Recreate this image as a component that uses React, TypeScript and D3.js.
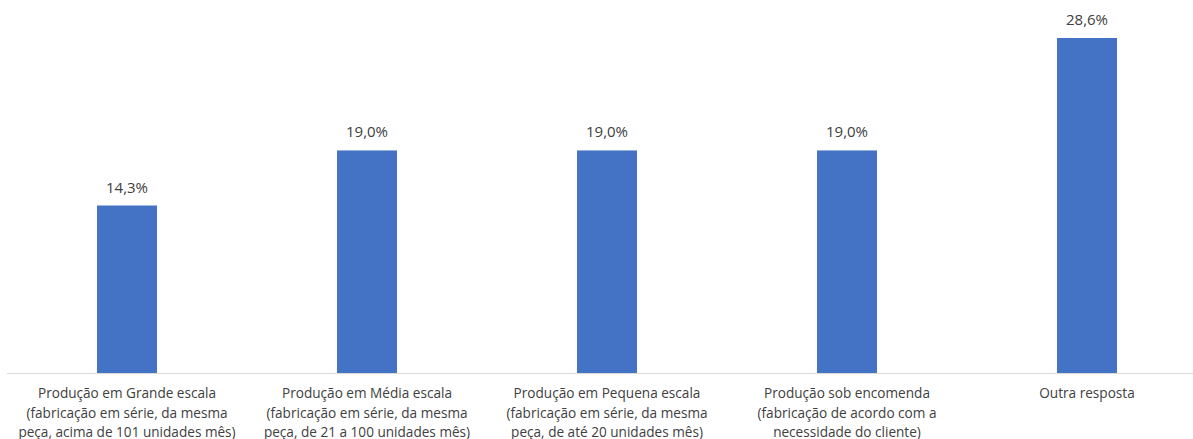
import React from "react";
import * as d3 from "d3";

const categories: string[][] = [
  ["Produção em Grande escala", "(fabricação em série, da mesma", "peça, acima de 101 unidades mês)"],
  ["Produção em Média escala", "(fabricação em série, da mesma", "peça, de 21 a 100 unidades mês)"],
  ["Produção em Pequena escala", "(fabricação em série, da mesma", "peça, de até 20 unidades mês)"],
  ["Produção sob encomenda", "(fabricação de acordo com a", "necessidade do cliente)"],
  ["Outra resposta"],
];
const values: number[] = [14.3, 19.0, 19.0, 19.0, 28.6];
const valueLabels: string[] = ["14,3%", "19,0%", "19,0%", "19,0%", "28,6%"];

const W = 1193;
const H = 439;
const FONT = "'Open Sans', sans-serif";

export default function App() {
  const idx = categories.map((_, i) => String(i));
  const x = d3.scaleBand<string>().domain(idx).range([7, 1207]).paddingInner(0.75).paddingOuter(0.375);
  const y = d3.scaleLinear().domain([0, 28.6]).range([373, 38]);
  return (
    <svg width={W} height={H} style={{ position: "absolute", left: 0, top: 0, background: "#fff" }}>
      <line x1={7} x2={W} y1={373.5} y2={373.5} stroke="#D9D9D9" strokeWidth={1} />
      {values.map((v, i) => (
        <rect key={i} x={x(String(i))} y={y(v)} width={x.bandwidth()} height={y(0) - y(v)} fill="#4472C4" />
      ))}
      {values.map((v, i) => (
        <text key={"v" + i} x={(x(String(i)) as number) + x.bandwidth() / 2} y={y(v) - 13} textAnchor="middle"
          fontFamily={FONT} fontSize={15} fill="#404040">{valueLabels[i]}</text>
      ))}
      {categories.map((lines, i) => (
        <text key={"c" + i} x={(x(String(i)) as number) + x.bandwidth() / 2} y={398} textAnchor="middle"
          fontFamily={FONT} fontSize={13.6} fill="#404040">
          {lines.map((l, j) => (
            <tspan key={j} x={(x(String(i)) as number) + x.bandwidth() / 2} dy={j === 0 ? 0 : 19.5}>{l}</tspan>
          ))}
        </text>
      ))}
    </svg>
  );
}
